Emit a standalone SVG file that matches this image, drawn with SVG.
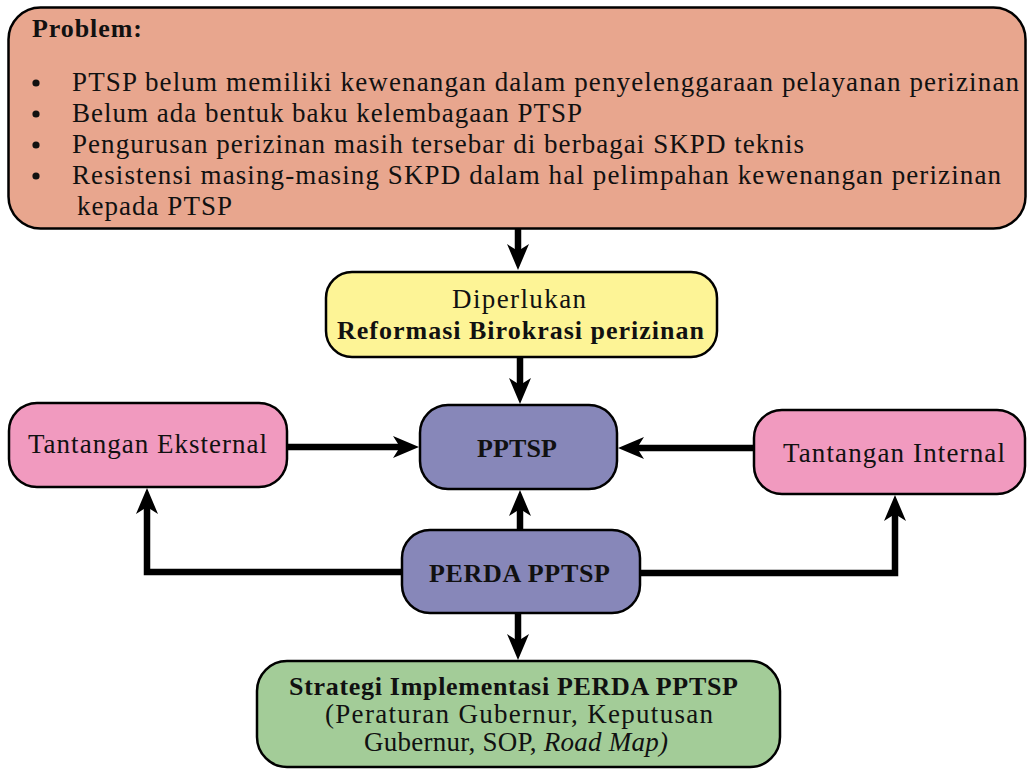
<svg xmlns="http://www.w3.org/2000/svg" width="1027" height="769" viewBox="0 0 1027 769">
  <style>
    .box { stroke: #000; stroke-width: 2.5; }
    .t { font-family: "Liberation Serif", "Times New Roman", serif; font-size: 27px; fill: #111; }
    .b { font-weight: bold; font-size: 26px; }
    .conn { fill: none; stroke: #000; stroke-width: 6.5; stroke-linejoin: miter; }
  </style>
  <defs>
    <marker id="head" markerUnits="userSpaceOnUse" viewBox="0 0 26 22" markerWidth="26" markerHeight="22" refX="12" refY="11" orient="auto">
      <path d="M0,0 L26,11 L0,22 L7,11 Z" fill="#000"/>
    </marker>
  </defs>
  <rect width="1027" height="769" fill="#fff"/>

  <!-- connectors -->
  <g id="connectors">
    <path class="conn" d="M518,229 V256" marker-end="url(#head)"/>
    <path class="conn" d="M520,357 V390" marker-end="url(#head)"/>
    <path class="conn" d="M288,447 H405" marker-end="url(#head)"/>
    <path class="conn" d="M754,448 H632" marker-end="url(#head)"/>
    <path class="conn" d="M520,530 V504" marker-end="url(#head)"/>
    <path class="conn" d="M402,572 H147 V502" marker-end="url(#head)"/>
    <path class="conn" d="M640,573 H895 V509" marker-end="url(#head)"/>
    <path class="conn" d="M518,613 V646" marker-end="url(#head)"/>
  </g>

  <!-- problem statement -->
  <g id="problem">
    <rect class="box" x="8.5" y="7.5" width="1017" height="221" rx="32" fill="#e8a68e"/>
    <text class="t b" x="32" y="37" textLength="110">Problem:</text>
    <circle cx="36" cy="83" r="3.6" fill="#111"/>
    <circle cx="36" cy="114" r="3.6" fill="#111"/>
    <circle cx="36" cy="145" r="3.6" fill="#111"/>
    <circle cx="36" cy="176" r="3.6" fill="#111"/>
    <text class="t" x="72" y="91" textLength="947">PTSP belum memiliki kewenangan dalam penyelenggaraan pelayanan perizinan</text>
    <text class="t" x="72" y="122" textLength="510">Belum ada bentuk baku kelembagaan PTSP</text>
    <text class="t" x="72" y="153" textLength="732">Pengurusan perizinan masih tersebar di berbagai SKPD teknis</text>
    <text class="t" x="72" y="184" textLength="929">Resistensi masing-masing SKPD dalam hal pelimpahan kewenangan perizinan</text>
    <text class="t" x="77" y="215" textLength="155">kepada PTSP</text>
  </g>

  <!-- reform need -->
  <g id="reformasi">
    <rect class="box" x="326" y="272" width="391" height="85" rx="26" fill="#fdf496"/>
    <text class="t" x="452" y="308" textLength="134">Diperlukan</text>
    <text class="t b" x="337" y="339" textLength="367">Reformasi Birokrasi perizinan</text>
  </g>

  <g id="pptsp">
    <rect class="box" x="420" y="405" width="197" height="84" rx="28" fill="#8787b9"/>
    <text class="t b" x="477" y="457" textLength="80">PPTSP</text>
  </g>

  <g id="eksternal">
    <rect class="box" x="9" y="403" width="278" height="84" rx="28" fill="#f19abf"/>
    <text class="t" x="28" y="453" textLength="239">Tantangan Eksternal</text>
  </g>

  <g id="internal">
    <rect class="box" x="754" y="410" width="271" height="84" rx="28" fill="#f19abf"/>
    <text class="t" x="783" y="462" textLength="222">Tantangan Internal</text>
  </g>

  <g id="perda">
    <rect class="box" x="402" y="530" width="238" height="83" rx="28" fill="#8787b9"/>
    <text class="t b" x="429" y="582" textLength="181">PERDA PPTSP</text>
  </g>

  <g id="strategi">
    <rect class="box" x="257" y="661" width="523" height="106" rx="30" fill="#a3cc98"/>
    <text class="t b" x="289" y="695" textLength="449">Strategi Implementasi PERDA PPTSP</text>
    <text class="t" x="325" y="723" textLength="388">(Peraturan Gubernur, Keputusan</text>
    <text class="t" x="364" y="751" textLength="304">Gubernur, SOP, <tspan font-style="italic">Road Map)</tspan></text>
  </g>
</svg>
